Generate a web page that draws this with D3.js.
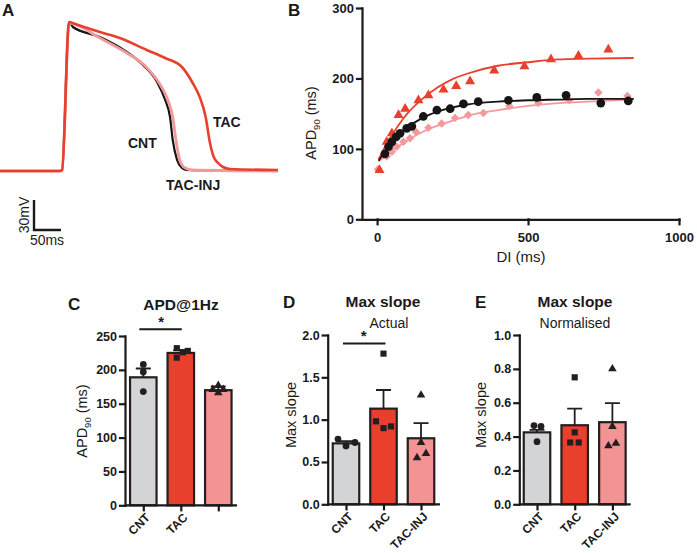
<!DOCTYPE html>
<html><head><meta charset="utf-8">
<script src="https://cdn.jsdelivr.net/npm/d3@7"></script>
<style>
body{margin:0;background:#fff;}
svg text{font-family:"Liberation Sans",Arial,Helvetica,sans-serif;}
</style></head><body>
<svg id="c" width="697" height="553"></svg>
<script>
// ---------- DATA ----------
// Panel A: action potential traces (time ms, voltage mV)
const tCNT = [0,111,115,128,135,185,235,265,291,306,315,320,328,337,346,515];
const vCNT = [-80,-80,-79,69,64,54,39,26,9,-9,-26,-49,-69,-77,-79,-80];
const tINJ = [0,111,115,128,185,235,269,296,311,320,326,333,343,356,515];
const vINJ = [-80,-80,-79,68,53,38,25,7,-9,-26,-49,-69,-77,-79,-80];
const tTAC = [0,111,115,128,139,185,222,272,306,337,357,370,381,389,396,404,413,426,515];
const vTAC = [-80,-80,-79,69,67,59,53,41,33,24,8,-6,-26,-52,-66,-72,-76,-78,-79];

// Panel B: restitution (DI ms, APD90 ms)
const diCNT  = [26,38,49,63,76,98,115,153,198,242,286,335,435,529,626,741,832];
const apdCNT = [93,103,110,117,122,129,132,146,155,157,164,167,169,173,176,165,168];
const diTAC  = [8,32,49,71,93,137,170,220,262,308,388,488,576,667,766];
const apdTAC = [70,110,122,148,157,169,176,184,189,196,211,217,227,232,241];
const diINJ  = [3,32,49,65,87,109,129,170,214,258,302,352,438,534,637,733,829];
const apdINJ = [71,89,96,103,110,115,124,130,136,144,148,151,161,165,169,180,175];
const fitDI  = [5,25,50,75,100,150,200,250,300,400,500,600,700,850];
const fitCNT = [83,96,110,121,130,144,153,159,163,167,169,170,171,171];
const fitTAC = [85,102,120,136,150,171,187,199,207,218,223,227,228,229];
const fitINJ = [82,89,98,105,112,124,133,140,147,155,161,165,167,170];
const ticksBx = [0,500,1000];
const ticksBy = [0,100,200,300];

// Bar panels
const groups = ["CNT","TAC","TAC-INJ"];
const labelsC = ["CNT","TAC",""];
const labelsDE = ["CNT","TAC","TAC-INJ"];
const meanC = [189,225,170];
const semC  = [13,4,5.5];
const ptsC  = [[208,197,168],[232,218,226,228],[177,171,171,166]];
const ticksC = [0,50,100,150,200,250];
const meanD = [0.72,1.13,0.78];
const semD  = [0.025,0.22,0.18];
const ptsD  = [[0.77,0.69,0.73],[1.78,0.98,0.90,0.92],[1.29,0.73,0.55,0.60]];
const ticksD = [0,0.5,1.0,1.5,2.0];
const meanE = [0.425,0.467,0.485];
const semE  = [0.015,0.098,0.113];
const ptsE  = [[0.465,0.46,0.37],[0.75,0.425,0.365,0.365],[0.80,0.46,0.345,0.36]];
const ticksE = [0,0.2,0.4,0.6,0.8,1.0];

// ---------- STYLE / LAYOUT ----------
const colCNT = "#151515", colTAC = "#e8402d", colINJ = "#f29a9b";
const barFill = ["#d3d4d6", "#e8402d", "#f39393"];
const dark = "#231f20";
const FONT = '"Liberation Sans", Arial, Helvetica, sans-serif';
const svg = d3.select("#c");

function txt(x, y, s, size, weight, anchor, rot) {
  const t = svg.append("text").attr("font-size", size).attr("font-weight", weight || "normal")
    .attr("text-anchor", anchor || "start").attr("fill", "#1a1a1a");
  if (rot) t.attr("transform", `translate(${x},${y}) rotate(${rot})`);
  else t.attr("x", x).attr("y", y);
  t.text(s);
  return t;
}

// ---------- PANEL A ----------
const ax = d3.scaleLinear().domain([0, 515]).range([0, 278]);
const ay = d3.scaleLinear().domain([-80, 69]).range([171, 22]);
const lineA = d3.line().x(d => ax(d[0])).y(d => ay(d[1])).curve(d3.curveMonotoneX);
[[tCNT, vCNT, colCNT, 2.2], [tINJ, vINJ, colINJ, 2.8], [tTAC, vTAC, colTAC, 2.6]].forEach(([t, v, c, w]) => {
  svg.append("path").datum(t.map((d, i) => [d, v[i]])).attr("d", lineA)
    .attr("fill", "none").attr("stroke", c).attr("stroke-width", w).attr("stroke-linejoin", "round");
});
// scale bar
const sb0t = 63, sb0v = -139;
svg.append("path")
  .attr("d", `M${ax(sb0t)},${ay(sb0v + 30)}V${ay(sb0v)}H${ax(sb0t + 50)}`)
  .attr("fill", "none").attr("stroke", "#1a1a1a").attr("stroke-width", 2.4);
txt(29, 215, "30mV", 14, "normal", "middle", -90);
txt(47, 245, "50ms", 14, "normal", "middle");
txt(213, 127, "TAC", 14, "bold");
txt(128, 148, "CNT", 14, "bold");
txt(166, 190, "TAC-INJ", 14, "bold");
txt(2, 16, "A", 17, "bold");

// ---------- PANEL B ----------
const bx = d3.scaleLinear().domain([-50, 1000]).range([362, 679]);
const by = d3.scaleLinear().domain([0, 300]).range([219.3, 8]);
const lineB = d3.line().x((d, i) => bx(fitDI[i])).y(d => by(d)).curve(d3.curveMonotoneX);
function styleAxis(g, size) {
  g.attr("font-family", FONT).attr("font-size", size).attr("font-weight", "bold");
  g.selectAll("path,line").attr("stroke", "#1a1a1a").attr("stroke-width", 2.2).attr("stroke-linecap", "square");
  g.selectAll("text").attr("fill", "#1a1a1a");
}
const gBy = svg.append("g").attr("transform", `translate(${bx(-50)},0)`)
  .call(d3.axisLeft(by).tickValues(ticksBy).tickFormat(d3.format("d")).tickSize(5).tickSizeOuter(0).tickPadding(3));
styleAxis(gBy, 13);
const gBx = svg.append("g").attr("transform", `translate(0,${by(0)})`)
  .call(d3.axisBottom(bx).tickValues(ticksBx).tickFormat(d3.format("d")).tickSize(5).tickSizeOuter(0).tickPadding(8));
styleAxis(gBx, 13);

const sym = (type, size) => d3.symbol().type(type).size(size)();
function series(di, apd, fit, col, type, size, rot) {
  svg.append("path").datum(fit).attr("d", lineB).attr("fill", "none").attr("stroke", col).attr("stroke-width", 1.8);
  svg.append("g").selectAll("path").data(di).join("path")
    .attr("d", sym(type, size))
    .attr("transform", (d, i) => `translate(${bx(d)},${by(apd[i])})` + (rot ? ` rotate(${rot})` : ""))
    .attr("fill", col);
}
series(diINJ, apdINJ, fitINJ, colINJ, d3.symbolSquare, 36, 45);
series(diTAC, apdTAC, fitTAC, colTAC, d3.symbolTriangle, 44, 0);
series(diCNT, apdCNT, fitCNT, colCNT, d3.symbolCircle, 60, 0);

const tB = svg.append("text").attr("font-size", 14.5).attr("text-anchor", "middle").attr("fill", "#1a1a1a")
  .attr("transform", `translate(316,123) rotate(-90)`);
tB.append("tspan").text("APD");
tB.append("tspan").attr("font-size", 9.5).attr("dy", 4).text("90");
tB.append("tspan").attr("dy", -4).text(" (ms)");
txt(521, 262, "DI (ms)", 15, "normal", "middle");
txt(288, 16, "B", 17, "bold");

// ---------- BAR PANELS ----------
const shapes = [d3.symbolCircle, d3.symbolSquare, d3.symbolTriangle];
const shapeSize = [36, 38, 32];
function barPanel(o) {
  const y = d3.scaleLinear().domain([0, o.max]).range([o.y0, o.yTop]);
  const x = d3.scalePoint().domain(groups).range([o.c0, o.c0 + 2 * o.step]);
  const bw = 26.5;
  const g = svg.append("g");
  g.selectAll("rect").data(groups).join("rect")
    .attr("x", d => x(d) - bw / 2).attr("width", bw)
    .attr("y", (d, i) => y(o.mean[i])).attr("height", (d, i) => o.y0 - y(o.mean[i]))
    .attr("fill", (d, i) => barFill[i]).attr("stroke", dark).attr("stroke-width", 2.2);
  groups.forEach((gname, i) => {
    const cx = x(gname), top = y(o.mean[i] + o.sem[i]);
    g.append("path").attr("d", `M${cx},${y(o.mean[i])}V${top}M${cx - 7.5},${top}H${cx + 7.5}`)
      .attr("stroke", dark).attr("stroke-width", 1.8).attr("fill", "none");
  });
  groups.forEach((gname, i) => {
    o.pts[i].forEach((v, j) => {
      g.append("path").attr("d", sym(shapes[i], shapeSize[i]))
        .attr("transform", `translate(${x(gname) + o.jit[i][j]},${y(v)})`).attr("fill", dark);
    });
  });
  const gy = svg.append("g").attr("transform", `translate(${o.ax},0)`)
    .call(d3.axisLeft(y).tickValues(o.ticks).tickFormat(o.fmt).tickSize(5).tickSizeOuter(0).tickPadding(3));
  styleAxis(gy, 12.5);
  const gx = svg.append("g").attr("transform", `translate(0,${o.y0})`)
    .call(d3.axisBottom(x).tickSize(5).tickSizeOuter(0).tickFormat((d, i) => o.labels[i]));
  styleAxis(gx, 12);
  gx.select(".domain").remove();
  gx.append("line").attr("x1", o.ax).attr("x2", o.xEnd).attr("stroke", "#1a1a1a").attr("stroke-width", 2.2);
  gx.selectAll(".tick text").attr("y", 0).attr("dy", "0.35em").attr("text-anchor", "end")
    .attr("transform", "translate(4,10) rotate(-45)");
  if (o.sig) {
    const yy = y(o.sig.v);
    svg.append("line").attr("x1", x(groups[0]) + o.sig.dx1).attr("x2", x(groups[1]) + o.sig.dx2)
      .attr("y1", yy).attr("y2", yy).attr("stroke", "#1a1a1a").attr("stroke-width", 2);
    txt((x(groups[0]) + x(groups[1])) / 2 - 1, yy - 2, "*", 15, "bold", "middle");
  }
  return { x, y };
}

barPanel({ max: 250, y0: 505.3, yTop: 336, c0: 143.3, step: 37.5, ax: 125, xEnd: 237,
  mean: meanC, sem: semC, pts: ptsC, ticks: ticksC, fmt: d3.format("d"), labels: labelsC,
  jit: [[0, 0, 0], [-4, -4, 2, 7], [0, -5.5, 5, 0]], sig: { v: 260, dx1: -4, dx2: 1 } });
barPanel({ max: 2, y0: 504.3, yTop: 335, c0: 346, step: 37.5, ax: 327.7, xEnd: 440,
  mean: meanD, sem: semD, pts: ptsD, ticks: ticksD, fmt: d3.format(".1f"), labels: labelsDE,
  jit: [[-8, 0, 9], [0, -7.5, 0, 7.5], [0, 0, -4, 5]], sig: { v: 1.9, dx1: -3, dx2: 2 } });
barPanel({ max: 1, y0: 504.3, yTop: 335, c0: 537, step: 37.7, ax: 519.3, xEnd: 630.7,
  mean: meanE, sem: semE, pts: ptsE, ticks: ticksE, fmt: d3.format(".1f"), labels: labelsDE,
  jit: [[-3, 4, 0], [0, 0, -4.5, 4], [0, 0, -4, 3.5]] });

txt(68, 310, "C", 17, "bold");
txt(181, 310, "APD@1Hz", 15.5, "bold", "middle");
const tC = svg.append("text").attr("font-size", 14.5).attr("text-anchor", "middle").attr("fill", "#1a1a1a")
  .attr("transform", `translate(87,421) rotate(-90)`);
tC.append("tspan").text("APD");
tC.append("tspan").attr("font-size", 9.5).attr("dy", 4).text("90");
tC.append("tspan").attr("dy", -4).text(" (ms)");

txt(283, 308, "D", 17, "bold");
txt(383, 307, "Max slope", 15.5, "bold", "middle");
txt(389, 328, "Actual", 14, "normal", "middle");
txt(296, 415, "Max slope", 14.5, "normal", "middle", -90);

txt(475, 308, "E", 17, "bold");
txt(575, 307, "Max slope", 15.5, "bold", "middle");
txt(575, 328, "Normalised", 14, "normal", "middle");
txt(486, 415, "Max slope", 14.5, "normal", "middle", -90);
</script>
</body></html>
